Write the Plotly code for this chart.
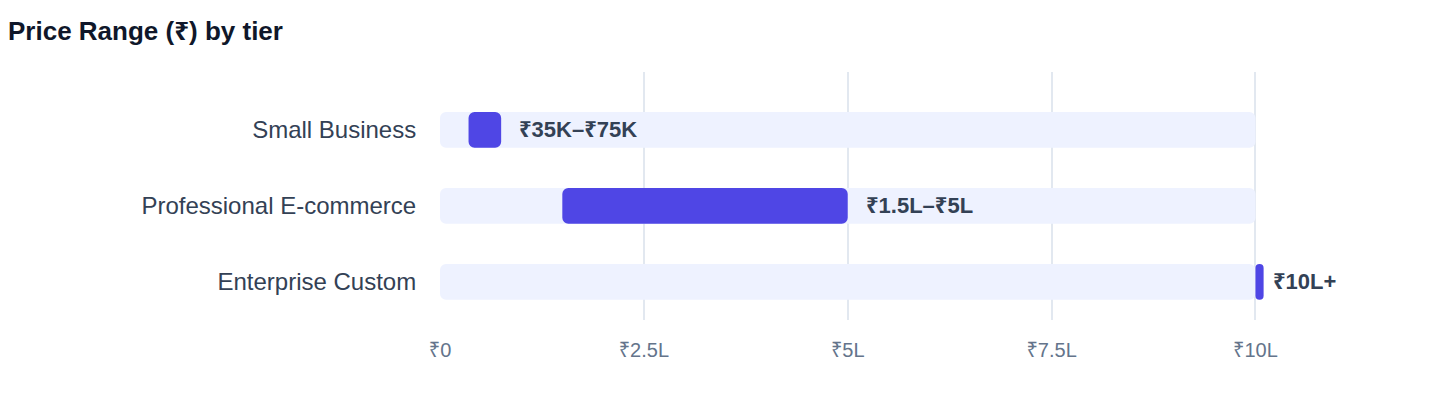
import plotly.graph_objects as go

# price range per tier (in rupees)
tiers = ["Small Business", "Professional E-commerce", "Enterprise Custom"]
price_low = [35000, 150000, 1000000]
price_high = [75000, 500000, 1000000]
range_labels = ["₹35K–₹75K", "₹1.5L–₹5L", "₹10L+"]

track_max = 1000000
min_bar = 10000  # open-ended tier still gets a visible sliver

tick_vals = [0, 250000, 500000, 750000, 1000000]
tick_text = ["₹0", "₹2.5L", "₹5L", "₹7.5L", "₹10L"]

FONT = "Liberation Sans, Arial, Noto Sans, DejaVu Sans, sans-serif"

widths = [max(hi - lo, min_bar) for lo, hi in zip(price_low, price_high)]

fig = go.Figure()

# light background track
fig.add_trace(go.Bar(
    y=tiers, x=[track_max] * len(tiers), base=[0] * len(tiers),
    orientation="h", width=0.47,
    marker=dict(color="#EEF2FF", cornerradius=6, line=dict(width=0)),
    hoverinfo="skip", showlegend=False,
))

# actual price range
fig.add_trace(go.Bar(
    y=tiers, x=widths, base=price_low,
    orientation="h", width=0.47,
    marker=dict(color="#4F46E5", cornerradius=6, line=dict(width=0)),
    hoverinfo="skip", showlegend=False,
))

for tier, hi, txt in zip(tiers, price_high, range_labels):
    fig.add_annotation(
        x=hi, y=tier, text=txt, showarrow=False,
        xanchor="left", yanchor="middle", xshift=16,
        font=dict(family=FONT, size=22, color="#334155", weight="bold"),
    )

# the page body has an 8px margin, so the figure is sized to fit inside it
fig.update_layout(
    width=1432, height=400,
    barmode="overlay",
    paper_bgcolor="white", plot_bgcolor="white",
    margin=dict(l=432, r=103, t=64, b=88),
    title=dict(
        text="<b>Price Range (₹) by tier</b>",
        x=0, xref="container", xanchor="left",
        y=1 - 23 / 400, yref="container", yanchor="middle",
        font=dict(family=FONT, size=26, color="#0F172A"),
    ),
    xaxis=dict(
        range=[0, 1100000],
        tickvals=tick_vals, ticktext=tick_text,
        showgrid=True, gridcolor="#E2E8F0", gridwidth=2,
        zeroline=False, showline=False,
        ticks="outside", ticklen=12, tickcolor="rgba(0,0,0,0)",
        tickfont=dict(family=FONT, size=20, color="#64748B"),
        fixedrange=True,
    ),
    yaxis=dict(
        type="category", categoryorder="array", categoryarray=tiers,
        range=[2.5, -0.76],
        showgrid=False, zeroline=False, showline=False,
        ticks="outside", ticklen=18, tickcolor="rgba(0,0,0,0)",
        tickfont=dict(family=FONT, size=24, color="#334155"),
        fixedrange=True,
    ),
)

fig.write_html("out.html")
